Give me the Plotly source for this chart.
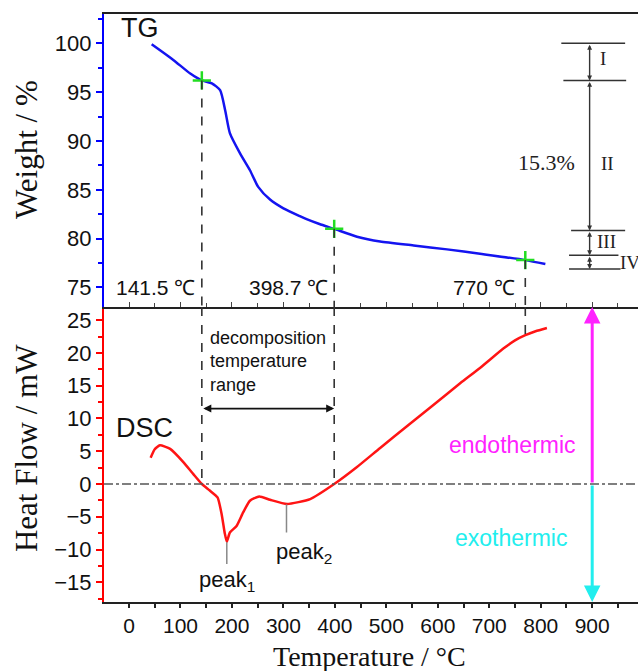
import plotly.graph_objects as go

# ---------------- data ----------------
tg_temp = [44, 86, 119, 141.5, 161, 177, 187, 196, 216, 235, 251, 274, 300, 332, 345, 370,
           398.7, 443, 488, 553, 618, 682, 770, 809]
tg_weight = [99.9, 98.3, 96.9, 96.2, 95.9, 95.2, 93.1, 90.8, 88.7, 87.0, 85.3, 84.0, 83.1, 82.3,
             82.0, 81.5, 81.0, 80.2, 79.7, 79.3, 78.9, 78.45, 77.8, 77.4]

dsc_temp = [42, 50, 60, 80, 106, 125, 141.5, 157, 172, 180, 186, 190, 196, 209, 222, 235, 253,
            274, 307, 352, 398.7, 443, 488, 540, 592, 644, 682, 728, 750, 770, 790, 812]
dsc_heat = [4.0, 5.3, 5.9, 5.35, 3.3, 1.5, 0.0, -1.0, -2.05, -4.6, -7.5, -8.8, -7.4, -6.4, -4.3,
            -2.55, -1.9, -2.4, -3.05, -2.3, 0.0, 2.6, 5.5, 8.8, 12.1, 15.4, 17.7, 20.7, 21.9,
            22.7, 23.3, 23.8]

mark_temp = [141.5, 398.7, 770]
mark_weight = [96.2, 81.0, 77.8]
mark_heat = [0.0, 0.0, 22.7]
mark_labels = ["141.5 ℃", "398.7 ℃", "770 ℃"]

stage_bounds = [100.0, 96.2, 80.84, 78.3, 76.9]
stage_labels = ["I", "II", "III", "IV"]
stage_total = "15.3%"

peak_temp = [190, 306]
peak_heat = [-8.8, -3.05]
peak_labels = ["peak<sub>1</sub>", "peak<sub>2</sub>"]

# ---------------- figure ----------------
SANS = "Liberation Sans, Arial, sans-serif"
SERIF = "Liberation Serif, Times New Roman, serif"
XR = [-48.6, 989]
SPLIT = 0.5017

fig = go.Figure()
fig.add_trace(go.Scatter(x=tg_temp, y=tg_weight, xaxis="x2", yaxis="y2", mode="lines",
                         line=dict(color="#1414f0", width=2.5, shape="spline", smoothing=0.6),
                         showlegend=False, hoverinfo="skip"))
fig.add_trace(go.Scatter(x=dsc_temp, y=dsc_heat, xaxis="x", yaxis="y", mode="lines",
                         line=dict(color="#ff1414", width=2.5, shape="spline", smoothing=0.5),
                         showlegend=False, hoverinfo="skip"))
fig.add_trace(go.Scatter(x=mark_temp, y=mark_weight, xaxis="x2", yaxis="y2", mode="markers",
                         marker=dict(symbol="cross-thin", size=13,
                                     line=dict(color="#22dd22", width=2.5)),
                         showlegend=False, hoverinfo="skip"))

shapes = []
# dashed verticals in both panels
for t, w, h in zip(mark_temp, mark_weight, mark_heat):
    shapes.append(dict(type="line", xref="x2", yref="y2", x0=t, x1=t, y0=w, y1=73,
                       line=dict(color="#333", width=1.6, dash="dash")))
    shapes.append(dict(type="line", xref="x", yref="y", x0=t, x1=t, y0=27, y1=h,
                       line=dict(color="#333", width=1.6, dash="dash")))
# zero line
shapes.append(dict(type="line", xref="paper", yref="y", x0=0, x1=1, y0=0, y1=0,
                   line=dict(color="#555", width=1.5, dash="dashdot")))
# peak leader lines
shapes.append(dict(type="line", xref="x", yref="y", x0=peak_temp[0], x1=peak_temp[0],
                   y0=peak_heat[0] - 0.1, y1=-12.2, line=dict(color="#888", width=1.5)))
shapes.append(dict(type="line", xref="x", yref="y", x0=peak_temp[1], x1=peak_temp[1],
                   y0=peak_heat[1] - 0.05, y1=-7.4, line=dict(color="#888", width=1.5)))
# bracket horizontal lines (TG stages)
br_left = [840, 844, 859, 855, 855]
br_right = [964, 966, 964, 951, 955]
for b, l, r in zip(stage_bounds, br_left, br_right):
    shapes.append(dict(type="line", xref="x2", yref="y2", x0=l, x1=r, y0=b, y1=b,
                       line=dict(color="#333", width=1.5)))

ann = []
# stage arrows
for i in range(len(stage_bounds) - 1):
    ann.append(dict(xref="x2", yref="y2", axref="x2", ayref="y2", x=895, y=stage_bounds[i + 1],
                    ax=895, ay=stage_bounds[i], text="", showarrow=True, arrowside="end+start",
                    arrowhead=2, arrowsize=0.7, arrowwidth=1.4, arrowcolor="#333",
                    standoff=0, startstandoff=0))
stage_pos = [(921, 98.4), (929, 87.7), (928, 79.7), (974, 77.6)]
for lab, (sx, sy) in zip(stage_labels, stage_pos):
    ann.append(dict(xref="x2", yref="y2", x=sx, y=sy, text=lab, showarrow=False,
                    font=dict(family=SERIF, size=19, color="#222")))
ann.append(dict(xref="x2", yref="y2", x=812, y=87.8, text=stage_total, showarrow=False,
                font=dict(family=SERIF, size=22, color="#222")))

# temperature labels
lab_right = [132, 391, 754]
for lab, xr in zip(mark_labels, lab_right):
    ann.append(dict(xref="x2", yref="y2", x=xr, y=75, text=lab, showarrow=False,
                    xanchor="right", font=dict(family=SANS, size=21, color="#111")))

ann.append(dict(xref="x2", yref="y2", x=21, y=101.6, text="TG", showarrow=False,
                font=dict(family=SANS, size=27, color="#111")))
ann.append(dict(xref="x", yref="y", x=31, y=8.5, text="DSC", showarrow=False,
                font=dict(family=SANS, size=27, color="#111")))
ann.append(dict(xref="x", yref="y", x=153, y=18.7, xanchor="left", align="left",
                text="decomposition<br>temperature<br>range", showarrow=False,
                font=dict(family=SANS, size=18, color="#111")))
ann.append(dict(xref="x", yref="y", axref="x", ayref="y", x=mark_temp[1], y=11.5,
                ax=mark_temp[0], ay=11.5, text="", showarrow=True, arrowside="end+start",
                arrowhead=2, arrowsize=1, arrowwidth=1.6, arrowcolor="#111",
                standoff=0, startstandoff=0))
ann.append(dict(xref="x", yref="y", x=190, y=-14.8, text=peak_labels[0], showarrow=False,
                font=dict(family=SANS, size=22, color="#111")))
ann.append(dict(xref="x", yref="y", x=340, y=-10.5, text=peak_labels[1], showarrow=False,
                font=dict(family=SANS, size=22, color="#111")))
ann.append(dict(xref="x", yref="y", x=746, y=5.9, text="endothermic", showarrow=False,
                font=dict(family=SANS, size=23, color="#ff22ff")))
ann.append(dict(xref="x", yref="y", x=742, y=-8.2, text="exothermic", showarrow=False,
                font=dict(family=SANS, size=23, color="#22eeee")))
ann.append(dict(xref="x", yref="y", axref="x", ayref="y", x=900, y=27, ax=900, ay=0,
                text="", showarrow=True, arrowhead=2, arrowsize=1.1, arrowwidth=3,
                arrowcolor="#ff22ff", standoff=0))
ann.append(dict(xref="x", yref="y", axref="x", ayref="y", x=900, y=-18, ax=900, ay=0,
                text="", showarrow=True, arrowhead=2, arrowsize=1.1, arrowwidth=3,
                arrowcolor="#22eeee", standoff=0))
# axis titles
ann.append(dict(xref="paper", yref="paper", x=-0.144, y=0.769, xanchor="center",
                yanchor="middle", text="Weight / %", textangle=-90, showarrow=False,
                font=dict(family=SERIF, size=31, color="#111")))
ann.append(dict(xref="paper", yref="paper", x=-0.144, y=0.262, xanchor="center",
                yanchor="middle", text="Heat Flow / mW", textangle=-90, showarrow=False,
                font=dict(family=SERIF, size=31, color="#111")))
ann.append(dict(xref="paper", yref="paper", x=0.497, y=-0.092, xanchor="center",
                yanchor="middle", text="Temperature / °C", showarrow=False,
                font=dict(family=SERIF, size=28, color="#111")))

tickfont = dict(family=SANS, size=22, color="#111")
fig.update_layout(
    width=638, height=671, margin=dict(l=104, r=0, t=14, b=69),
    paper_bgcolor="white", plot_bgcolor="white", showlegend=False,
    xaxis=dict(domain=[0, 1], anchor="y", range=XR, tick0=0, dtick=100, ticks="outside",
               ticklen=4, tickwidth=1.5, tickcolor="#222", showline=True, linecolor="#222",
               linewidth=1.8, showgrid=False, zeroline=False,
               tickfont=dict(family=SANS, size=21, color="#111"),
               minor=dict(tick0=0, dtick=50, ticks="outside", ticklen=4, tickcolor="#222")),
    xaxis2=dict(domain=[0, 1], anchor="y2", matches="x", range=XR, tick0=0, dtick=100,
                ticks="inside", ticklen=5, tickwidth=1.2, tickcolor="#444", showline=True,
                linecolor="#222", linewidth=1.8, mirror=True, showgrid=False, zeroline=False,
                showticklabels=False,
                minor=dict(tick0=0, dtick=50, ticks="inside", ticklen=4, tickcolor="#444")),
    yaxis=dict(domain=[0, SPLIT], anchor="x", range=[-18, 27], tick0=0, dtick=5,
               ticks="outside", ticklen=6, tickwidth=1.5, tickcolor="red", showline=True,
               linecolor="red", linewidth=2.2, showgrid=False, zeroline=False, tickfont=tickfont,
               minor=dict(tick0=0, dtick=2.5, ticks="outside", ticklen=4, tickcolor="red")),
    yaxis2=dict(domain=[SPLIT, 1], anchor="x2", range=[73, 103], tick0=0, dtick=5,
                ticks="outside", ticklen=6, tickwidth=1.5, tickcolor="blue", showline=True,
                linecolor="blue", linewidth=2.2, showgrid=False, zeroline=False, tickfont=tickfont,
                minor=dict(tick0=0, dtick=2.5, ticks="outside", ticklen=4, tickcolor="blue")),
    shapes=shapes, annotations=ann,
)

fig.write_html("out.html")
